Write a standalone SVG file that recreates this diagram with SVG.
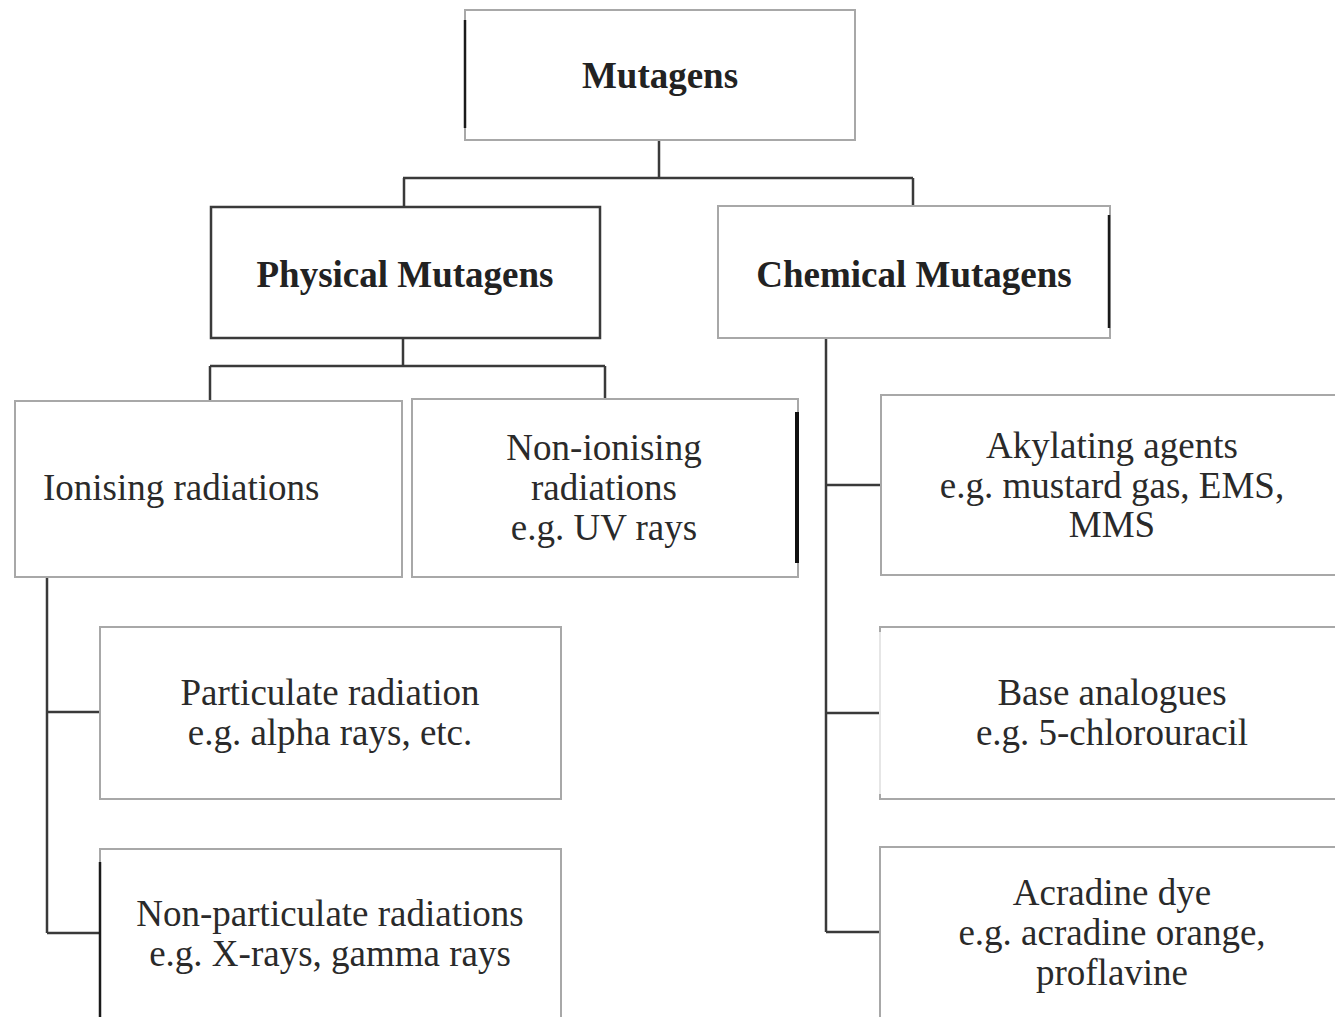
<svg xmlns="http://www.w3.org/2000/svg" width="1335" height="1017" viewBox="0 0 1335 1017">
<style>
.bg{fill:#ffffff}
.box{fill:#ffffff;stroke:#a8a8a8;stroke-width:2}
.boxd{fill:#ffffff;stroke:#3a3a3a;stroke-width:2.5}
.accent{stroke:#1a1a1a;stroke-width:2.5;fill:none}
.thick{stroke:#111111;stroke-width:4;fill:none}
.faint{stroke:#e6e6e6;stroke-width:2;fill:none}
.conn{stroke:#3a3a3a;stroke-width:2.5;fill:none}
text{font-family:"Liberation Serif","Times New Roman",serif;font-size:37px;fill:#2a2a2a}
.b{font-weight:bold;fill:#222222}
.c{text-anchor:middle}
</style>
<rect class="bg" x="0" y="0" width="1335" height="1017"/>
<g id="connectors">
<path class="conn" d="M659 140V178M403 178H913M404 178V207M913 178V206"/>
<path class="conn" d="M403 338V366M210 366H605M210 366V401M605 366V399"/>
<path class="conn" d="M826 338V932M826 485H881M826 713H880M826 932H880"/>
<path class="conn" d="M47 577V933M47 712H100M47 933H100"/>
</g>
<g id="mutagens">
<rect class="box" x="465" y="10" width="390" height="130"/>
<path class="accent" d="M465 20V128"/>
<text class="b c" x="660" y="88">Mutagens</text>
</g>
<g id="physical">
<rect class="boxd" x="211" y="207" width="389" height="131"/>
<text class="b c" x="405" y="287">Physical Mutagens</text>
</g>
<g id="chemical">
<rect class="box" x="718" y="206" width="392" height="132"/>
<path class="accent" d="M1109 215V328"/>
<text class="b c" x="914" y="287">Chemical Mutagens</text>
</g>
<g id="ionising">
<rect class="box" x="15" y="401" width="387" height="176"/>
<text x="43" y="500">Ionising radiations</text>
</g>
<g id="nonionising">
<rect class="box" x="412" y="399" width="386" height="178"/>
<path class="thick" d="M797 412V563"/>
<text class="c" x="604" y="460">Non-ionising</text>
<text class="c" x="604" y="500">radiations</text>
<text class="c" x="604" y="540">e.g. UV rays</text>
</g>
<g id="particulate">
<rect class="box" x="100" y="627" width="461" height="172"/>
<text class="c" x="330" y="705">Particulate radiation</text>
<text class="c" x="330" y="745">e.g. alpha rays, etc.</text>
</g>
<g id="nonparticulate">
<rect class="box" x="100" y="849" width="461" height="190"/>
<path class="accent" d="M100 862V1017"/>
<text class="c" x="330" y="926">Non-particulate radiations</text>
<text class="c" x="330" y="966">e.g. X-rays, gamma rays</text>
</g>
<g id="alkylating">
<rect class="box" x="881" y="395" width="470" height="180"/>
<text class="c" x="1112" y="458">Akylating agents</text>
<text class="c" x="1112" y="498">e.g. mustard gas, EMS,</text>
<text class="c" x="1112" y="537">MMS</text>
</g>
<g id="base">
<path class="box" d="M1350 627H880V799H1350"/>
<path class="faint" d="M880 632V794"/>
<text class="c" x="1112" y="705">Base analogues</text>
<text class="c" x="1112" y="745">e.g. 5-chlorouracil</text>
</g>
<g id="acradine">
<path class="box" d="M1350 847H880V1030"/>
<text class="c" x="1112" y="905">Acradine dye</text>
<text class="c" x="1112" y="945">e.g. acradine orange,</text>
<text class="c" x="1112" y="985">proflavine</text>
</g>
</svg>
